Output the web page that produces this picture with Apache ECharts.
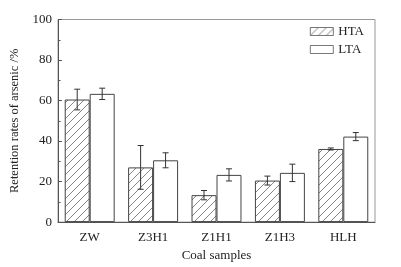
<!DOCTYPE html>
<html>
<head>
<meta charset="utf-8">
<script src="https://cdn.jsdelivr.net/npm/echarts@6/dist/echarts.min.js"></script>
<style>
html, body { margin: 0; padding: 0; background: #fff; }
#chart { width: 401px; height: 267px; }
</style>
</head>
<body>
<div id="chart"></div>
<script>
// 数据
var samples = ['ZW', 'Z3H1', 'Z1H1', 'Z1H3', 'HLH'];
var htaVals = [60.5, 27.0, 13.3, 20.5, 36.1];
var htaErr = [5.1, 10.8, 2.3, 2.2, 0.5];
var ltaVals = [63.3, 30.5, 23.3, 24.3, 42.2];
var ltaErr = [2.8, 3.7, 3.0, 4.3, 2.0];

var FONT = '"Times New Roman", "Liberation Serif", serif';

// 斜线填充
function hatch() {
    var c = document.createElement('canvas');
    c.width = 8; c.height = 8;
    var g = c.getContext('2d');
    g.strokeStyle = '#666';
    g.lineWidth = 0.8;
    g.beginPath();
    g.moveTo(0, 8); g.lineTo(8, 0);
    g.moveTo(-2, 2); g.lineTo(2, -2);
    g.moveTo(6, 10); g.lineTo(10, 6);
    g.stroke();
    return c;
}

function errSeries(vals, errs, side) {
    return {
        type: 'custom',
        silent: true,
        z: 5,
        data: vals.map(function (v, i) { return [i, v, errs[i]]; }),
        renderItem: function (params, api) {
            var i = api.value(0), v = api.value(1), e = api.value(2);
            var band = api.size([1, 0])[0];
            var off = band * 0.197 * side;
            var top = api.coord([i, v + e]);
            var bot = api.coord([i, v - e]);
            var x = top[0] + off;
            var st = { stroke: '#333', lineWidth: 1 };
            return {
                type: 'group',
                children: [
                    { type: 'line', shape: { x1: x, y1: top[1], x2: x, y2: bot[1] }, style: st },
                    { type: 'line', shape: { x1: x - 3, y1: top[1], x2: x + 3, y2: top[1] }, style: st },
                    { type: 'line', shape: { x1: x - 3, y1: bot[1], x2: x + 3, y2: bot[1] }, style: st }
                ]
            };
        }
    };
}

var chart = echarts.init(document.getElementById('chart'));
chart.setOption({
    animation: false,
    textStyle: { fontFamily: FONT },
    grid: { left: 58, right: 26, top: 19.5, bottom: 39, show: true, borderColor: '#999', borderWidth: 1 },
    legend: {
        right: 32, top: 20,
        orient: 'vertical',
        icon: 'rect',
        itemWidth: 23, itemHeight: 8, itemGap: 5,
        itemStyle: { borderWidth: 0.8, borderColor: '#555' },
        textStyle: { fontFamily: FONT, fontSize: 13, color: '#222' },
        data: ['HTA', 'LTA']
    },
    xAxis: {
        type: 'category',
        data: samples,
        name: 'Coal samples',
        nameLocation: 'middle',
        nameGap: 22,
        nameTextStyle: { fontFamily: FONT, fontSize: 13, color: '#222' },
        axisLine: { lineStyle: { color: '#555' } },
        axisTick: { show: false },
        axisLabel: { fontFamily: FONT, fontSize: 13, color: '#222', margin: 9 }
    },
    yAxis: {
        type: 'value',
        min: 0, max: 100, interval: 20,
        name: 'Retention rates of arsenic /%',
        nameLocation: 'middle',
        nameGap: 27,
        nameTextStyle: { fontFamily: FONT, fontSize: 12.5, color: '#222' },
        axisLine: { show: true, lineStyle: { color: '#555' } },
        axisTick: { show: true, inside: true, length: 4, lineStyle: { color: '#555' } },
        minorTick: { show: true, splitNumber: 2, length: 2.5, lineStyle: { color: '#555' } },
        splitLine: { show: false },
        axisLabel: { fontFamily: FONT, fontSize: 13, color: '#222', margin: 6 }
    },
    series: [
        {
            name: 'HTA', type: 'bar', data: htaVals,
            barWidth: '39.4%', barGap: '0%',
            itemStyle: { color: { image: hatch(), repeat: 'repeat' }, borderColor: '#444', borderWidth: 1 }
        },
        {
            name: 'LTA', type: 'bar', data: ltaVals,
            barWidth: '39.4%', barGap: '0%',
            itemStyle: { color: '#fff', borderColor: '#444', borderWidth: 1 }
        },
        errSeries(htaVals, htaErr, -1),
        errSeries(ltaVals, ltaErr, 1)
    ]
});
</script>
</body>
</html>
